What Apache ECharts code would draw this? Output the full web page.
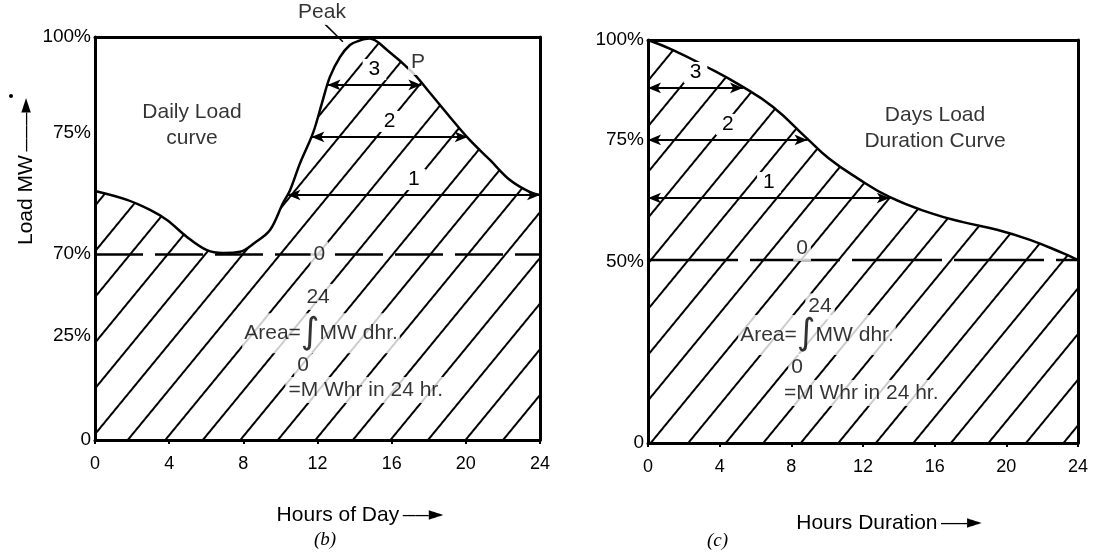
<!DOCTYPE html>
<html><head><meta charset="utf-8">
<script src="https://cdn.jsdelivr.net/npm/echarts@6/dist/echarts.min.js"></script>
<style>html,body{margin:0;background:#fff}#c{width:1093px;height:554px}</style>
</head><body><div id="c"></div>
<script>
// ---------- data ----------
const xTicks = [0, 4, 8, 12, 16, 20, 24];
const dailyHours = [0, 1.73, 2.97, 3.88, 4.96, 6.04, 6.9, 7.82, 8.6, 9.44, 10.14, 10.52, 11.06, 11.76, 12.24, 12.67, 13.21, 13.75, 14.2, 14.8, 15.75, 17.15, 18.07, 19.15, 20.22, 21.3, 22.38, 23.46, 24];
const dailyLoad  = [61.8, 59.6, 57.1, 54.6, 50.4, 47.1, 46.4, 46.7, 48.9, 52.1, 58.8, 62.0, 68.7, 76.2, 83.6, 90.1, 95.0, 98.0, 99.0, 99.6, 96.8, 91.1, 86.1, 80.1, 74.4, 69.5, 64.5, 61.5, 60.8];
const durHours = [0, 1.40, 3.29, 5.13, 6.98, 8.87, 10.1, 11.66, 13.5, 15.74, 17.58, 19.48, 21.32, 23.16, 24];
const durLoad  = [100, 97.5, 93.3, 88.8, 83.4, 75.6, 70.6, 65.8, 61.0, 57.1, 54.8, 52.9, 50.4, 47.1, 45.4];

const yTickPosB = [0, 25.8, 46.2, 76.2, 100];
const yTickLabB = ['0', '25%', '70%', '75%', '100%'];
const yTickPosC = [0, 44.9, 75.2, 100];
const yTickLabC = ['0', '50%', '75%', '100%'];

const baseLevelB = 46.0;
const baseLevelC = 45.4;

const arrowLevels = [60.8, 75.2, 88.1];
const arrowLabels = ['1', '2', '3'];
const bArrowStart = [10.38, 11.67, 12.54];
const bArrowEnd   = [24, 20.1, 17.6];
const cArrowStart = [0, 0, 0];
const cArrowEnd   = [13.5, 8.9, 5.3];

const bNoteText = ['Daily Load\ncurve', 'Peak', 'P', '24', 'AREA', '0', '=M Whr in 24 hr.', '0'];
const bNoteX    = [5.23, 12.24, 17.42, 12.03, 12.19, 11.22, 14.6, 12.1];
const bNoteY    = [78.2, 106.2, 93.8, 35.5, 26.5, 18.6, 12.4, 46.0];
const cNoteText = ['Days Load\nDuration Curve', '24', 'AREA', '0', '=M Whr in 24 hr.', '0'];
const cNoteX    = [16.02, 9.6, 9.43, 8.32, 11.9, 8.6];
const cNoteY    = [78.1, 33.9, 26.8, 18.9, 12.4, 48.4];
const peakLeaderX = [12.4, 13.37];
const peakLeaderY = [103.2, 98.8];

// ---------- styling ----------
const FONT = '"Liberation Sans", Arial, Helvetica, sans-serif';
const hatch = {
  symbol: 'rect', symbolSize: 1, color: '#000',
  dashArrayX: [1, 0], dashArrayY: [2, 26.3],
  rotation: -50.6 * Math.PI / 180
};
const richArea = {
  t: { fontSize: 21, fontFamily: FONT, color: '#000', verticalAlign: 'middle' },
  i: { fontSize: 36, fontFamily: '"DejaVu Sans"', color: '#000', verticalAlign: 'middle', lineHeight: 40 }
};
const richName = (fs) => ({
  t: { fontSize: fs, fontFamily: FONT, color: '#000' },
  l: { fontSize: 13, fontFamily: FONT, color: '#000', fontWeight: 'bold' },
  h: { fontSize: 19, fontFamily: '"DejaVu Sans"', color: '#000' }
});

function xAxes(grid, top) {
  return {
    gridIndex: grid, type: 'value', min: 0, max: 24, interval: 4, z: 10,
    position: top ? 'top' : 'bottom',
    axisLine: { show: true, onZero: false, lineStyle: { color: '#000', width: 3 } },
    axisTick: { show: !top, length: 4, lineStyle: { color: '#000', width: 2 } },
    axisLabel: { show: !top, fontSize: 18, color: '#000', fontFamily: FONT, margin: 15 },
    splitLine: { show: false }
  };
}
function yAxes(grid, right, pos, lab) {
  return {
    gridIndex: grid, type: 'value', min: 0, max: 100, z: 10,
    position: right ? 'right' : 'left',
    axisLine: { show: true, onZero: false, lineStyle: { color: '#000', width: 3 } },
    axisTick: { show: false },
    axisLabel: right ? { show: false } : {
      show: true, customValues: pos, fontSize: 19, color: '#000', fontFamily: FONT, margin: 4,
      formatter: v => { const k = pos.indexOf(v); return k >= 0 ? lab[k] : ''; }
    },
    splitLine: { show: false }
  };
}

function noteData(texts, xs, ys) {
  return texts.map((t, i) => {
    const item = { value: [xs[i], ys[i]], name: t };
    if (t === 'AREA') {
      item.label = { formatter: '{t|Area=}{i|∫}{t|MW dhr.}', rich: richArea, padding: [0, 2] };
    }
    return item;
  });
}

function arrowData(starts, ends) {
  return arrowLevels.map((y, i) => [
    { coord: [starts[i], y], name: arrowLabels[i] },
    { coord: [ends[i], y] }
  ]);
}

const arrowMark = (starts, ends) => ({
  silent: true, animation: false,
  symbol: ['arrow', 'arrow'], symbolSize: [8, 13],
  lineStyle: { color: '#000', width: 2, type: 'solid' },
  label: { show: true, position: 'middle', formatter: '{b}', color: '#000', fontSize: 21,
           fontFamily: FONT, backgroundColor: '#fff', padding: [0, 6] },
  emphasis: { disabled: true },
  data: arrowData(starts, ends)
});

const noteSeries = (xi, texts, xs, ys) => ({
  type: 'scatter', xAxisIndex: xi, yAxisIndex: xi, clip: false, silent: true,
  symbolSize: 0, z: 6, animation: false,
  label: { show: true, position: 'inside', formatter: '{b}', color: '#000', fontSize: 21,
           fontFamily: FONT, lineHeight: 26, align: 'center', backgroundColor: '#fff', padding: [0, 3] },
  data: noteData(texts, xs, ys)
});

const option = {
  backgroundColor: '#fff',
  animation: false,
  grid: [
    { left: 95, top: 37, width: 445, height: 403 },
    { left: 648, top: 40, width: 430, height: 403 }
  ],
  xAxis: [
    Object.assign(xAxes(0, false), {
      name: '{t|Hours of Day}{l| ——}{h|►}', nameLocation: 'middle', nameGap: 65,
      nameTextStyle: { padding: [0, 0, 0, 85], rich: richName(21) }
    }),
    xAxes(0, true),
    Object.assign(xAxes(1, false), {
      name: '{t|Hours Duration}{l| ——}{h|►}', nameLocation: 'middle', nameGap: 70,
      nameTextStyle: { padding: [0, 0, 0, 52], rich: richName(21) }
    }),
    xAxes(1, true)
  ],
  yAxis: [
    Object.assign(yAxes(0, false, yTickPosB, yTickLabB), {
      name: '{t|Load MW}{l| ———}{h|►}', nameLocation: 'middle', nameRotate: 90, nameGap: 58,
      nameTextStyle: { padding: [0, 0, 0, 134], rich: richName(21) }
    }),
    yAxes(0, true),
    yAxes(1, false, yTickPosC, yTickLabC),
    yAxes(1, true)
  ],
  series: [
    { type: 'line', xAxisIndex: 0, yAxisIndex: 0, smooth: 0.35, symbol: 'none', z: 2,
      data: dailyHours.map((h, i) => [h, dailyLoad[i]]),
      lineStyle: { color: '#000', width: 2.5 },
      itemStyle: { color: '#000', decal: hatch },
      areaStyle: { color: 'rgba(255,255,255,0)', opacity: 1 } },
    { type: 'line', xAxisIndex: 0, yAxisIndex: 0, symbol: 'none', z: 3,
      data: [[0, baseLevelB], [24, baseLevelB]],
      lineStyle: { color: '#000', width: 2.5, type: [48, 12] } },
    { type: 'line', xAxisIndex: 0, yAxisIndex: 0, symbol: 'none', z: 4, clip: false, data: [],
      markLine: arrowMark(bArrowStart, bArrowEnd) },
    { type: 'line', xAxisIndex: 0, yAxisIndex: 0, symbol: 'none', z: 5, clip: false,
      data: peakLeaderX.map((x, i) => [x, peakLeaderY[i]]),
      lineStyle: { color: '#000', width: 1.5 } },
    noteSeries(0, bNoteText, bNoteX, bNoteY),

    { type: 'line', xAxisIndex: 2, yAxisIndex: 2, smooth: 0.45, symbol: 'none', z: 2,
      data: durHours.map((h, i) => [h, durLoad[i]]),
      lineStyle: { color: '#000', width: 2.5 },
      itemStyle: { color: '#000', decal: hatch },
      areaStyle: { color: 'rgba(255,255,255,0)', opacity: 1 } },
    { type: 'line', xAxisIndex: 2, yAxisIndex: 2, symbol: 'none', z: 3,
      data: [[0, baseLevelC], [24, baseLevelC]],
      lineStyle: { color: '#000', width: 2.5, type: [90, 12] } },
    { type: 'line', xAxisIndex: 2, yAxisIndex: 2, symbol: 'none', z: 4, clip: false, data: [],
      markLine: arrowMark(cArrowStart, cArrowEnd) },
    noteSeries(2, cNoteText, cNoteX, cNoteY)
  ],
  graphic: [
    { type: 'text', left: 314, top: 530, style: { text: '(b)', font: 'italic 19px "Liberation Serif"', fill: '#000' } },
    { type: 'text', left: 707, top: 531, style: { text: '(c)', font: 'italic 19px "Liberation Serif"', fill: '#000' } },
    { type: 'circle', shape: { cx: 11, cy: 96, r: 2 }, style: { fill: '#000' } }
  ]
};

const chart = echarts.init(document.getElementById('c'), null, { renderer: 'canvas' });
chart.setOption(option);
</script>
</body></html>
